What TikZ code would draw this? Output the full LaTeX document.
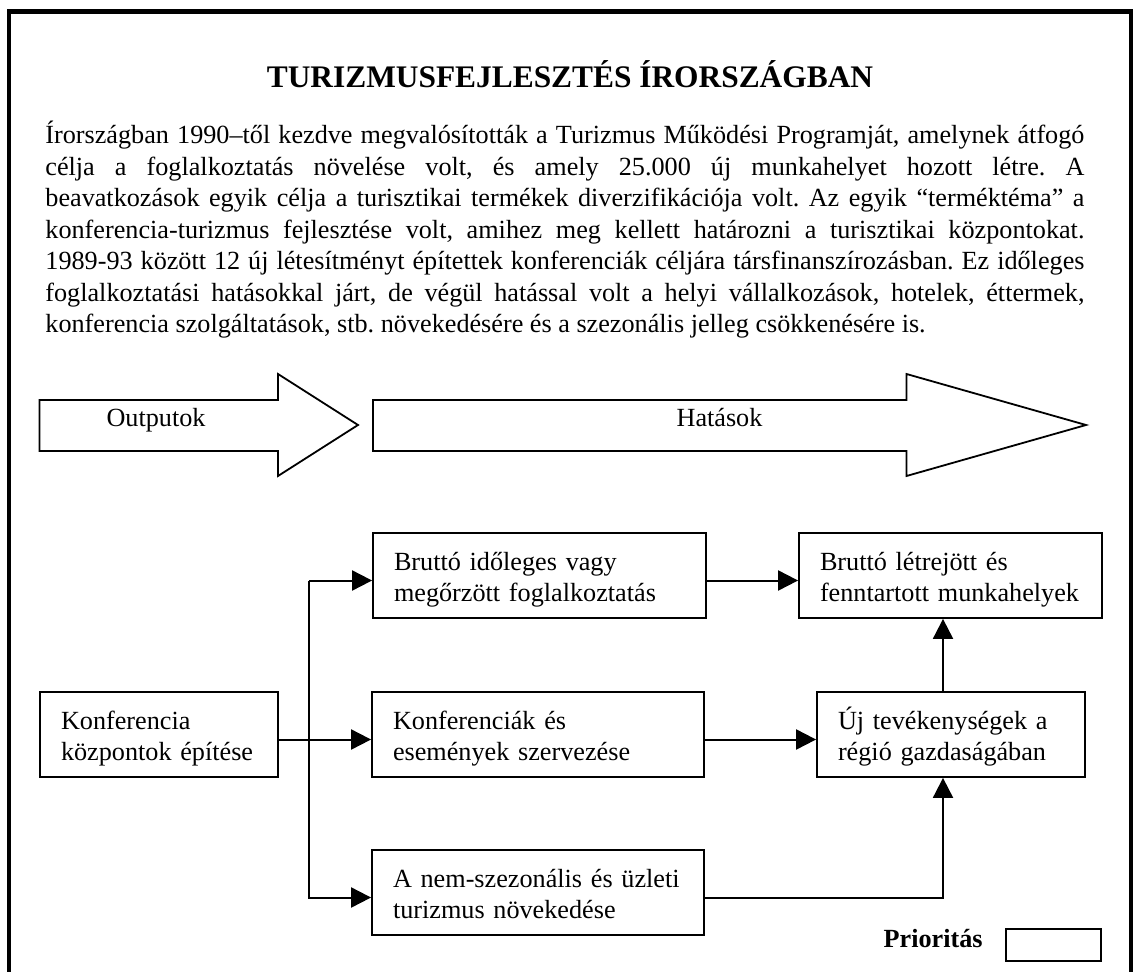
\documentclass[tikz,border=0pt]{standalone}
\usepackage{fontspec}
\setmainfont{Liberation Serif}
\usetikzlibrary{arrows.meta}
\frenchspacing
\newcommand\pline[1]{\hbox to 519.5pt{#1}}
\newcommand\tl[2]{\mbox{#1}\\\mbox{#2}}
\begin{document}
\begin{tikzpicture}[x=0.5pt,y=-0.5pt,
  body/.style={font=\fontsize{13.1}{15.5}\selectfont, inner sep=0pt},
  bx/.style={draw, line width=0.9pt, body, inner xsep=10.5pt, inner ysep=0pt, align=left, text height=18.5pt, text depth=24pt},
  bigarrow/.style={draw, line width=0.9pt},
  conn/.style={line width=1pt, -{Triangle[length=10pt,width=10pt]}},
]
\useasboundingbox (0,0) rectangle (1133,972);
% frame (open at the bottom)
\draw[line width=2.25pt] (9,980) -- (9,11.5) -- (1131,11.5) -- (1131,980);

% title
\node[font=\bfseries\fontsize{15.7}{18}\selectfont, inner sep=0pt, anchor=base] (title) at (570,88) {TURIZMUSFEJLESZTÉS ÍRORSZÁGBAN};

% paragraph
\node[body, anchor=base west] (p1) at (45,144) {\pline{Írországban 1990–től kezdve megvalósították a Turizmus Működési Programját, amelynek átfogó}};
\node[body, anchor=base west] (p2) at (45,175.5) {\pline{célja a foglalkoztatás növelése volt, és amely 25.000 új munkahelyet hozott létre. A}};
\node[body, anchor=base west] (p3) at (45,207) {\pline{beavatkozások egyik célja a turisztikai termékek diverzifikációja volt. Az egyik “terméktéma” a}};
\node[body, anchor=base west] (p4) at (45,238.5) {\pline{konferencia-turizmus fejlesztése volt, amihez meg kellett határozni a turisztikai központokat.}};
\node[body, anchor=base west] (p5) at (45,270) {\pline{1989-93 között 12 új létesítményt építettek konferenciák céljára társfinanszírozásban. Ez időleges}};
\node[body, anchor=base west] (p6) at (45,301.5) {\pline{foglalkoztatási hatásokkal járt, de végül hatással volt a helyi vállalkozások, hotelek, éttermek,}};
\node[body, anchor=base west] (p7) at (45,333) {konferencia szolgáltatások, stb. növekedésére és a szezonális jelleg csökkenésére is.};

% big arrows
\draw[bigarrow] (39.5,400) -- (278,400) -- (278,374) -- (358,425) -- (278,476) -- (278,451) -- (39.5,451) -- cycle;
\draw[bigarrow] (373,400) -- (906.5,400) -- (906.5,374) -- (1086,425) -- (906.5,476) -- (906.5,451) -- (373,451) -- cycle;
\node[body, anchor=base] (out) at (156,427) {Outputok};
\node[body, anchor=base] (hat) at (719.5,427) {Hatások};

% boxes
\node[bx, text width=145.5pt] (b1) at (539.5,575.5) {\tl{Bruttó időleges vagy}{megőrzött foglalkoztatás}};
\node[bx, text width=130.5pt] (b2) at (950.5,575.5) {\tl{Bruttó létrejött és}{fenntartott munkahelyek}};
\node[bx, text width=98pt] (k) at (159,734.5) {\tl{Konferencia}{központok építése}};
\node[bx, text width=145pt] (ke) at (538,734.5) {\tl{Konferenciák és}{események szervezése}};
\node[bx, text width=113pt] (u) at (951,734.5) {\tl{Új tevékenységek a}{régió gazdaságában}};
\node[bx, text width=145pt] (n) at (538,892.5) {\tl{A nem-szezonális és üzleti}{turizmus növekedése}};

% legend
\node[font=\bfseries\fontsize{13.1}{15.5}\selectfont, inner sep=0pt, anchor=base east] (prio) at (983,947) {Prioritás};
\node[draw, line width=0.9pt, minimum width=47.5pt, minimum height=16pt, inner sep=0pt] (pbox) at (1053.5,945) {};

% connector helper coordinates
\coordinate (j) at (309,0);
\coordinate (v) at (943,0);
\coordinate (kout) at ([yshift=-2.5pt]k.east);
\coordinate (kein) at ([yshift=-2.5pt]ke.west);
\coordinate (keout) at ([yshift=-2.5pt]ke.east);
\coordinate (uin) at ([yshift=-2.5pt]u.west);
\coordinate (b1in) at ([yshift=-2.5pt]b1.west);
\coordinate (b1out) at ([yshift=-2.5pt]b1.east);
\coordinate (b2in) at ([yshift=-2.5pt]b2.west);
\coordinate (nin) at ([yshift=-2.5pt]n.west);
\coordinate (nout) at ([yshift=-2.5pt]n.east);

% connectors
\draw[conn] (kout) -- (kein);
\draw[conn] (b1in -| j) -- (nin -| j) -- (nin);
\draw[conn] (b1in -| j) -- (b1in);
\draw[conn] (b1out) -- (b2in);
\draw[conn] (keout) -- (uin);
\draw[conn] (nout) -- (nout -| v) -- (u.south -| v);
\draw[conn] (u.north -| v) -- (b2.south -| v);
\end{tikzpicture}
\end{document}
